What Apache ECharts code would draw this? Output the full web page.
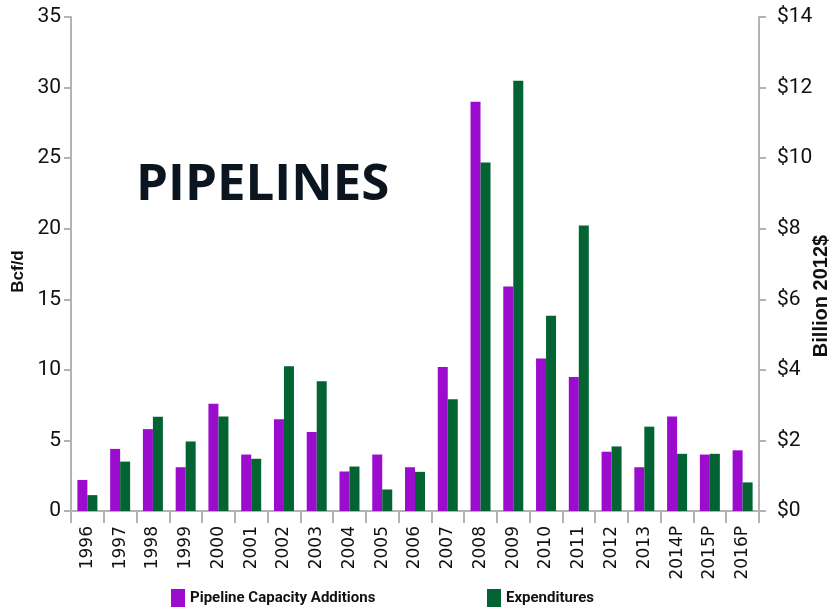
<!DOCTYPE html>
<html>
<head>
<meta charset="utf-8">
<script src="https://cdn.jsdelivr.net/npm/echarts@6/dist/echarts.min.js"></script>
<style>
  html, body { margin: 0; padding: 0; background: #fff; }
  #main { width: 832px; height: 616px; }
</style>
</head>
<body>
<div id="main"></div>
<script>
// 数据
var years = ['1996','1997','1998','1999','2000','2001','2002','2003','2004','2005','2006',
             '2007','2008','2009','2010','2011','2012','2013','2014P','2015P','2016P'];
var capacity = [2.2, 4.4, 5.8, 3.1, 7.6, 4.0, 6.5, 5.6, 2.8, 4.0, 3.1,
                10.2, 29.0, 15.9, 10.8, 9.5, 4.2, 3.1, 6.7, 4.0, 4.3];
var expenditures = [0.45, 1.4, 2.67, 1.97, 2.68, 1.48, 4.1, 3.68, 1.26, 0.61, 1.11,
                    3.17, 9.88, 12.19, 5.53, 8.09, 1.83, 2.39, 1.62, 1.62, 0.81];
var leftTicks = [0, 35, 5];
var rightTicks = [0, 14, 2];

// 看看有没有窄体字
function hasFont(name) {
    var c = document.createElement('canvas').getContext('2d');
    c.font = '20px monospace';
    var w0 = c.measureText('Pipeline Capacity 2012').width;
    c.font = '20px "' + name + '", monospace';
    return c.measureText('Pipeline Capacity 2012').width !== w0;
}
var narrowOk = hasFont('Liberation Sans Narrow');
var narrow = narrowOk ? '"Liberation Sans Narrow"' : 'Roboto';
var arial = '"Liberation Sans", Arial, sans-serif';
var axisGray = '#b3b3b3';

var myChart = echarts.init(document.getElementById('main'));

var legendText = {
    fontFamily: narrow,
    fontWeight: 'bold',
    fontSize: narrowOk ? 17 : 15,
    color: '#111'
};

var option = {
    animation: false,
    backgroundColor: '#fff',
    title: {
        text: 'PIPELINES',
        left: 131,
        top: 155,
        textStyle: {
            fontFamily: '"Open Sans", "Noto Sans", sans-serif',
            fontWeight: 'bold',
            fontSize: 51,
            color: '#0b1520'
        }
    },
    legend: [
        {
            bottom: 4,
            left: 166,
            itemWidth: 14,
            itemHeight: 18,
            icon: 'rect',
            textStyle: legendText,
            data: ['Pipeline Capacity Additions']
        },
        {
            bottom: 4,
            left: 482,
            itemWidth: 14,
            itemHeight: 18,
            icon: 'rect',
            textStyle: legendText,
            data: ['Expenditures']
        }
    ],
    grid: {
        left: 71,
        right: 73,
        top: 17,
        bottom: 105,
        outerBoundsMode: 'none'
    },
    xAxis: {
        type: 'category',
        data: years,
        axisLine: { lineStyle: { color: axisGray, width: 2 } },
        axisTick: { show: true, length: 12, lineStyle: { color: axisGray, width: 2 } },
        axisLabel: {
            interval: 0,
            rotate: 90,
            margin: 15,
            fontFamily: '"DejaVu Sans", sans-serif',
            fontSize: 17,
            color: '#111'
        }
    },
    yAxis: [
        {
            type: 'value',
            min: leftTicks[0],
            max: leftTicks[1],
            interval: leftTicks[2],
            name: 'Bcf/d',
            nameLocation: 'middle',
            nameRotate: 90,
            nameGap: 44,
            nameMoveOverlap: false,
            nameTextStyle: {
                fontFamily: arial,
                fontWeight: 'bold',
                fontSize: 17,
                color: '#111',
                padding: [0, 15, 0, 0]
            },
            splitLine: { show: false },
            axisLine: { show: true, lineStyle: { color: axisGray, width: 2 } },
            axisTick: { show: true, length: 7, lineStyle: { color: axisGray, width: 2 } },
            axisLabel: {
                margin: 10,
                fontFamily: narrow,
                fontSize: 21,
                color: '#111'
            }
        },
        {
            type: 'value',
            position: 'right',
            min: rightTicks[0],
            max: rightTicks[1],
            interval: rightTicks[2],
            name: 'Billion 2012$',
            nameLocation: 'middle',
            nameRotate: 90,
            nameGap: 52,
            nameMoveOverlap: false,
            nameTextStyle: {
                fontFamily: arial,
                fontWeight: 'bold',
                fontSize: 20,
                color: '#111',
                padding: [0, 64, 0, 0]
            },
            splitLine: { show: false },
            axisLine: { show: true, lineStyle: { color: axisGray, width: 2 } },
            axisTick: { show: true, length: 7, lineStyle: { color: axisGray, width: 2 } },
            axisLabel: {
                margin: 18,
                fontFamily: narrow,
                fontSize: 21,
                color: '#111',
                formatter: '${value}'
            }
        }
    ],
    series: [
        {
            name: 'Pipeline Capacity Additions',
            type: 'bar',
            yAxisIndex: 0,
            barWidth: 10,
            barGap: '0%',
            itemStyle: { color: '#9b0ccf' },
            data: capacity
        },
        {
            name: 'Expenditures',
            type: 'bar',
            yAxisIndex: 1,
            barWidth: 10,
            barGap: '0%',
            itemStyle: { color: '#036332' },
            data: expenditures
        }
    ]
};

myChart.setOption(option);
</script>
</body>
</html>
